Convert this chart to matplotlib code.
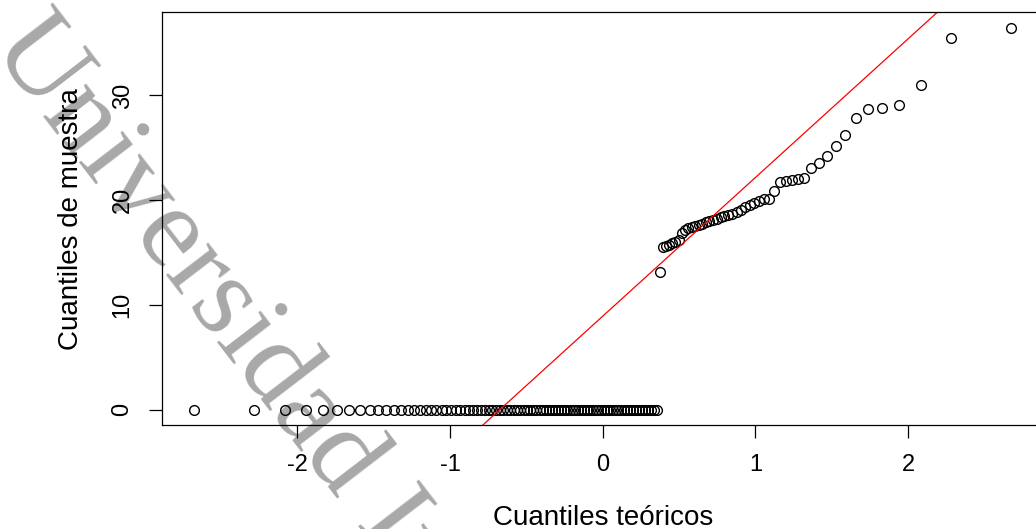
import numpy as np
import matplotlib
matplotlib.use('Agg')
import matplotlib.pyplot as plt
from statistics import NormalDist

# ---- data ----
n_zeros = 86
positive_values = [13.14, 15.5, 15.65, 15.75, 15.9, 16.05, 16.2,
                   16.9, 17.15, 17.3, 17.4, 17.5, 17.6, 17.75, 17.9, 18.0, 18.1,
                   18.2, 18.35, 18.45, 18.57, 18.7, 18.85, 19.05, 19.36, 19.59, 19.74,
                   19.9, 20.1, 20.16, 20.86, 21.76, 21.84, 21.9, 22.07, 22.16, 23.11,
                   23.59, 24.19, 25.14, 26.19, 27.84, 28.7, 28.83, 29.05, 30.98, 35.46,
                   36.48]
x_ticks = [-2, -1, 0, 1, 2]
y_ticks = [0, 10, 20, 30]
x_label = "Cuantiles teóricos"
y_label = "Cuantiles de muestra"
watermark = "Universidad Internacional de La Rioja"

sample = np.sort(np.array([0.0] * n_zeros + positive_values))
n = len(sample)
nd = NormalDist()
theo = np.array([nd.inv_cdf((i + 0.5) / n) for i in range(n)])  # ppoints, a=0.5

plt.rcParams['font.family'] = ['Liberation Sans', 'DejaVu Sans']
plt.rcParams['axes.unicode_minus'] = False

W, H = 1036, 529
fig = plt.figure(figsize=(W / 100, H / 100), dpi=100)
ax = fig.add_axes([161.5 / W, (H - 425) / H, 882.5 / W, (425 - 12.3) / H])
ax.set_facecolor('none')
ax.set_zorder(1)

ax.plot(theo, sample, linestyle='none', marker='o', markersize=7,
        markerfacecolor='none', markeredgecolor='black', markeredgewidth=1.0)

# qqline through quartiles
yq = np.quantile(sample, [0.25, 0.75])
xq = np.array([nd.inv_cdf(0.25), nd.inv_cdf(0.75)])
slope = (yq[1] - yq[0]) / (xq[1] - xq[0])
ax.axline((xq[0], yq[0]), slope=slope, color='red', linewidth=0.9)

# R-style 4% range extension
def ext(lo, hi):
    d = (hi - lo) * 0.04
    return lo - d, hi + d

ax.set_xlim(*ext(theo.min(), theo.max()))
ax.set_ylim(*ext(sample.min(), sample.max()))

ax.set_xticks(x_ticks)
ax.set_yticks(y_ticks)
ax.tick_params(axis='both', length=9.1, width=0.9, labelsize=17, color='black')
ax.tick_params(axis='x', pad=12)
ax.tick_params(axis='y', pad=11)
for lab in ax.get_yticklabels():
    lab.set_rotation(90)
    lab.set_va('center')
for s in ax.spines.values():
    s.set_linewidth(0.9)
    s.set_color('black')

ax.set_xlabel(x_label, fontsize=20)
ax.xaxis.set_label_coords(0.5, -(525 - 425) / 412.7)
ax.xaxis.label.set_va('baseline')
ax.set_ylabel(y_label, fontsize=20)
ax.yaxis.set_label_coords((78 - 161.5) / 882.5, 0.5)
ax.yaxis.label.set_va('baseline')

fig.text(-10 / W, 1 - 47 / H, watermark, rotation=-52.5, rotation_mode='anchor',
         ha='left', va='baseline', fontsize=84, family='Liberation Serif',
         color='#a8a8a8', zorder=-1)

fig.savefig('out.png', dpi=100)
